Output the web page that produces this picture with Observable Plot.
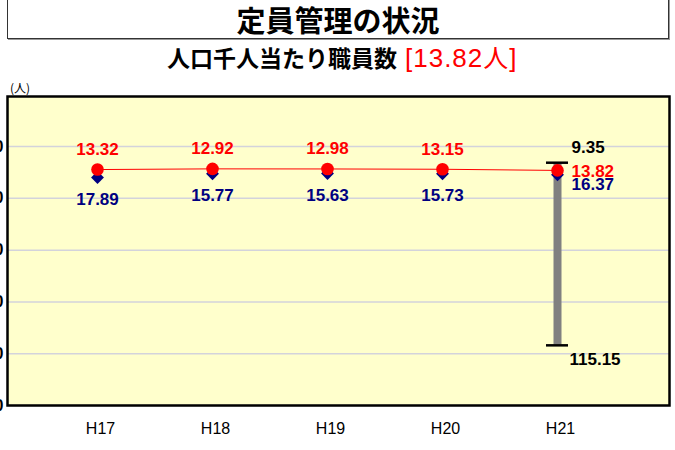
<!DOCTYPE html>
<html>
<head>
<meta charset="utf-8">
<script src="https://cdn.jsdelivr.net/npm/d3@7"></script>
<script src="https://cdn.jsdelivr.net/npm/@observablehq/plot@0.6"></script>
<style>
  html, body { margin: 0; padding: 0; background: #fff; }
  #wrap { position: relative; width: 675px; height: 450px; overflow: hidden; }
  #chart { position: absolute; left: 0; top: 0; }
  #titlebox { position: absolute; left: 7px; top: -3px; width: 660px; height: 38px;
    border: 1.5px solid #333; box-shadow: 1px 1px 0 #999; background: #fff;
    font-family: "Noto Sans CJK JP", sans-serif; font-weight: bold; font-size: 29px;
    line-height: 38px; text-align: center; color: #000; padding-top: 2px; box-sizing: content-box; }
  #sub { position: absolute; left: 167px; top: 38px; white-space: nowrap; height: 34px; }
  #sub .k { font-family: "Noto Sans CJK JP", sans-serif; font-weight: bold; font-size: 23px; color: #000; }
  #sub .r { font-family: "Liberation Sans", Arial, sans-serif; font-size: 26px; color: #ff0000; margin-left: 8px; letter-spacing: 1px; }
  #sub .r .j { font-family: "Noto Sans CJK JP", sans-serif; font-size: 25px; }
  #unit { position: absolute; left: 10px; top: 79px; font-family: "Noto Sans CJK JP", sans-serif; font-size: 12px; color: #000; }
</style>
</head>
<body>
<div id="wrap">
  <div id="chart"></div>
  <div id="titlebox">定員管理の状況</div>
  <div id="sub"><span class="k">人口千人当たり職員数</span><span class="r">[13.82<span class="j">人</span>]</span></div>
  <div id="unit">(人)</div>
</div>
<script>
const years = ["H17", "H18", "H19", "H20", "H21"];
const staffPerThousand = [13.32, 12.92, 12.98, 13.15, 13.82];
const comparisonAverage = [17.89, 15.77, 15.63, 15.73, 16.37];
const rangeYear = ["H21"];
const rangeMin = [9.35];
const rangeMax = [115.15];
const yTicks = [0, 30, 60, 90, 120, 150];
const yDomain = [-29, 150];

const data = years.map((year, i) => ({year, red: staffPerThousand[i], blue: comparisonAverage[i]}));
const early = data.filter(d => d.year !== "H21");
const last = data.filter(d => d.year === "H21");
const bar = rangeYear.map((year, i) => ({year, lo: rangeMin[i], hi: rangeMax[i]}));

const sans = "'Liberation Sans', Arial, sans-serif";

const chart = Plot.plot({
  width: 675,
  height: 450,
  marginTop: 96,
  marginBottom: 45,
  marginLeft: 7,
  marginRight: 6,
  style: {background: "transparent", overflow: "visible"},
  x: {type: "point", domain: years, range: [97, 557], padding: 0, label: null},
  y: {domain: yDomain, reverse: true, label: null},
  marks: [
    Plot.frame({fill: "#FFFFCC", stroke: null}),
    Plot.gridY(yTicks, {stroke: "#D3D3DB", strokeOpacity: 1, strokeWidth: 1.5}),
    Plot.axisY(yTicks, {anchor: "left", label: null, tickSize: 0, tickPadding: 4, fontSize: 16, fontWeight: "bold", fontFamily: sans, fill: "#000"}),
    Plot.axisX(years, {anchor: "bottom", label: null, tickSize: 0, tickPadding: 17, fontSize: 16, fontFamily: sans, fill: "#000", dx: 3}),
    Plot.line(data, {x: "year", y: "red", stroke: "#FF0000", strokeWidth: 1}),
    Plot.ruleX(bar, {x: "year", y1: "lo", y2: "hi", stroke: "#808080", strokeWidth: 8}),
    Plot.ruleY(bar, {x1: "year", x2: "year", y: "lo", stroke: "#000", strokeWidth: 2.5, insetLeft: -11, insetRight: -11}),
    Plot.ruleY(bar, {x1: "year", x2: "year", y: "hi", stroke: "#000", strokeWidth: 2.5, insetLeft: -11, insetRight: -11}),
    Plot.dot(data, {x: "year", y: "blue", symbol: "diamond2", fill: "#000080", stroke: null, r: 5.8}),
    Plot.dot(data, {x: "year", y: "red", fill: "#FF0000", stroke: null, r: 6.3}),
    Plot.text(early, {x: "year", y: "red", text: d => d.red.toFixed(2), dy: -20, fill: "#FF0000", fontSize: 17, fontWeight: "bold", fontFamily: sans}),
    Plot.text(early, {x: "year", y: "blue", text: d => d.blue.toFixed(2), dy: 22, fill: "#000080", fontSize: 17, fontWeight: "bold", fontFamily: sans}),
    Plot.text(last, {x: "year", y: "red", text: d => d.red.toFixed(2), dx: 14, dy: 1, textAnchor: "start", fill: "#FF0000", fontSize: 17, fontWeight: "bold", fontFamily: sans}),
    Plot.text(last, {x: "year", y: "blue", text: d => d.blue.toFixed(2), dx: 14, dy: 10, textAnchor: "start", fill: "#000080", fontSize: 17, fontWeight: "bold", fontFamily: sans}),
    Plot.text(bar, {x: "year", y: "lo", text: d => d.lo.toFixed(2), dx: 14, dy: -15, textAnchor: "start", fill: "#000", fontSize: 17, fontWeight: "bold", fontFamily: sans}),
    Plot.text(bar, {x: "year", y: "hi", text: d => d.hi.toFixed(2), dx: 12, dy: 14, textAnchor: "start", fill: "#000", fontSize: 17, fontWeight: "bold", fontFamily: sans}),
    Plot.frame({stroke: "#000", strokeWidth: 2.5})
  ]
});
document.getElementById("chart").appendChild(chart);
</script>
</body>
</html>
